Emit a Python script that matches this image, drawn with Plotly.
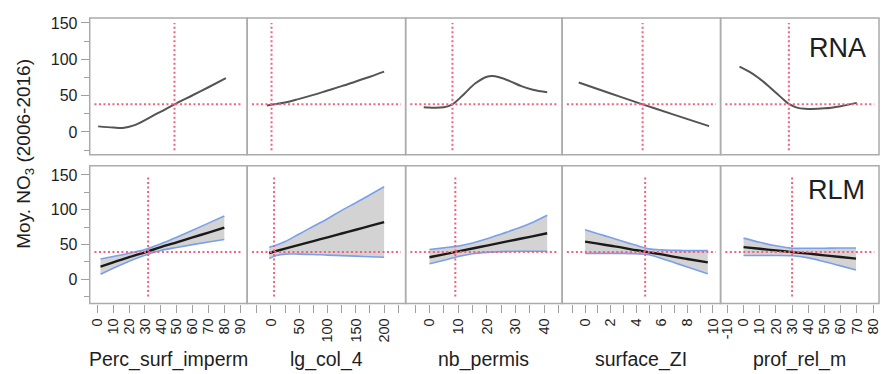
import plotly.graph_objects as go

# page is 889x374; the browser body has an 8px margin, so the figure is 881x366
PAGE_OFF = 8
W, H = 889 - PAGE_OFF, 374 - PAGE_OFF

variables = ["Perc_surf_imperm", "lg_col_4", "nb_permis", "surface_ZI", "prof_rel_m"]
row_labels = ["RNA", "RLM"]
y_label = "Moy. NO<sub>3</sub> (2006-2016)"

# ---- RNA (top row) response curves ----
rna_x_perc = [0.5, 10, 16, 23, 33.5, 40, 48.6, 60, 70, 81]
rna_y_perc = [7.7, 6, 5.5, 9, 20.5, 28, 38, 50.5, 61.5, 74]
rna_x_lg = [-7, 25, 50, 75, 100, 125, 150, 175, 200]
rna_y_lg = [36.5, 40.5, 45.5, 51, 57, 63, 69.5, 76, 83]
rna_x_nb = [-2, 0, 5, 8, 12, 16, 20, 22, 24, 28, 32, 36, 41]
rna_y_nb = [34, 33.5, 34, 38, 52, 67, 76, 77, 75.5, 70, 63, 58, 54.5]
rna_x_sz = [-0.5, 2, 4.5, 7, 9.7]
rna_y_sz = [68, 53, 38, 23.5, 8]
rna_x_pr = [-2.5, 5, 10, 15, 20, 25, 28, 33, 38, 50, 60, 70]
rna_y_pr = [90, 81, 73, 64, 54, 44, 38.5, 33.5, 32, 32.5, 35.5, 40]

# ---- RLM (bottom row): mean, upper and lower confidence bounds ----
rlm_x_perc = [2, 10, 20, 30, 40, 50, 60, 70, 80]
rlm_m_perc = [18, 24, 31.5, 38.5, 46, 53, 60, 67, 74]
rlm_u_perc = [29, 32.5, 37.2, 42.6, 50.8, 60.4, 70.4, 80.6, 91]
rlm_l_perc = [7, 15.5, 25.8, 34.4, 41.2, 45.6, 49.6, 53.4, 57]

rlm_x_lg = [-3, 10, 25, 50, 75, 100, 125, 150, 175, 200]
rlm_m_lg = [37.6, 40.5, 43.8, 49.2, 54.7, 60.2, 65.7, 71.1, 76.6, 82]
rlm_u_lg = [45.7, 49, 54, 65, 76, 87, 99, 110, 121.5, 133]
rlm_l_lg = [29.6, 34, 36, 36, 35.5, 34.5, 33.8, 33, 32.2, 31.4]

rlm_x_nb = [0, 5, 10, 15, 20, 25, 30, 35, 41]
rlm_m_nb = [31.5, 35.7, 39.9, 44.1, 48.3, 52.5, 56.7, 60.9, 66]
rlm_u_nb = [42.5, 45, 47.5, 52, 58, 65, 72, 80, 92]
rlm_l_nb = [22, 27, 32.5, 36.5, 38.5, 39.5, 40, 40, 40]

rlm_x_sz = [0, 1, 2, 3, 4, 5, 6, 7, 8, 9.6]
rlm_m_sz = [54, 51, 48, 45, 41.5, 38.5, 35.5, 32, 29, 24]
rlm_u_sz = [71, 65.4, 59.8, 54.2, 48.6, 43.5, 42, 41.5, 41, 41]
rlm_l_sz = [37, 37, 37, 37, 36.5, 35, 29.6, 23.5, 17.4, 7.6]

rlm_x_pr = [0, 10, 20, 30, 40, 50, 60, 69.5]
rlm_m_pr = [46, 43.6, 41.3, 38.9, 36.6, 34.2, 31.8, 29.5]
rlm_u_pr = [59, 53, 48, 44.5, 44.5, 44.5, 44.7, 44.7]
rlm_l_pr = [34, 34, 34, 33.5, 30.5, 25, 19, 13]

# reference (mean) lines
ref_h = [38, 39]                       # horizontal: mean NO3 (top, bottom)
ref_v_top = [48.6, 1, 8, 4.5, 28]      # vertical: mean of each predictor (RNA)
ref_v_bot = [32, 5.5, 9, 4.7, 30]      # vertical: mean of each predictor (RLM)

# tick definitions
x_major = [list(range(0, 91, 10)), [0, 50, 100, 150, 200], [0, 10, 20, 30, 40],
           [0, 2, 4, 6, 8, 10], list(range(-10, 81, 10))]
x_minor_step = [None, 25, 5, 1, None]
y_major = [0, 50, 100, 150]

rna = [(rna_x_perc, rna_y_perc), (rna_x_lg, rna_y_lg), (rna_x_nb, rna_y_nb),
       (rna_x_sz, rna_y_sz), (rna_x_pr, rna_y_pr)]
rlm = [(rlm_x_perc, rlm_m_perc, rlm_u_perc, rlm_l_perc),
       (rlm_x_lg, rlm_m_lg, rlm_u_lg, rlm_l_lg),
       (rlm_x_nb, rlm_m_nb, rlm_u_nb, rlm_l_nb),
       (rlm_x_sz, rlm_m_sz, rlm_u_sz, rlm_l_sz),
       (rlm_x_pr, rlm_m_pr, rlm_u_pr, rlm_l_pr)]

# ---- layout geometry (page pixels) ----
col_px = [(89, 247), (247, 406), (406, 563), (563, 722), (722, 881)]
row_px = [(15, 153), (164, 303)]
x_ranges = [[-4.8, 94.4], [-42, 238], [-8.3, 46.2], [-1.8, 10.6], [-14.2, 83.7]]
y_ranges = [[-31.4, 156.8], [-35.3, 163.3]]

FONT = "Liberation Sans, Arial, sans-serif"
TXT = "#1e1e1e"
BORDER = "#ababab"
TICK = "#a0a0a0"
RED = "#f2607c"
BLUE = "#7aa0ea"

def px_x(p):
    return (p - PAGE_OFF) / W

def px_y(p):
    return 1 - (p - PAGE_OFF) / H

fig = go.Figure()
layout = dict(
    width=W, height=H, margin=dict(l=0, r=0, t=0, b=0),
    paper_bgcolor="white", plot_bgcolor="white", showlegend=False,
    font=dict(family=FONT, color=TXT),
)
shapes = []
annotations = []

for r in range(2):
    for c in range(5):
        k = r * 5 + c + 1
        xs = "" if k == 1 else str(k)
        xa = dict(
            domain=[px_x(col_px[c][0]), px_x(col_px[c][1])],
            range=x_ranges[c], anchor="y" + xs,
            showgrid=False, zeroline=False, showline=False,
        )
        ya = dict(
            domain=[px_y(row_px[r][1]), px_y(row_px[r][0])],
            range=y_ranges[r], anchor="x" + xs,
            showgrid=False, zeroline=False, showline=False,
        )
        if r == 1:
            xa.update(tickmode="array", tickvals=x_major[c],
                      ticktext=[str(v) for v in x_major[c]],
                      ticks="outside", ticklen=8, tickcolor=TICK, tickwidth=1.3,
                      tickangle=-90, tickfont=dict(size=14.5, color=TXT, family=FONT))
            if x_minor_step[c]:
                xa["minor"] = dict(dtick=x_minor_step[c], tick0=0, ticks="outside",
                                   ticklen=8, tickcolor=TICK, tickwidth=1.3)
        else:
            xa.update(showticklabels=False, ticks="")
        if c == 0:
            ya.update(tickmode="array", tickvals=y_major,
                      ticktext=[str(v) for v in y_major],
                      ticks="outside", ticklen=8, tickcolor=TICK, tickwidth=1.3,
                      tickfont=dict(size=16, color=TXT, family=FONT),
                      minor=dict(dtick=25, tick0=0, ticks="outside", ticklen=5,
                                 tickcolor=TICK, tickwidth=1.3))
        else:
            ya.update(showticklabels=False, ticks="")
        layout["xaxis" + xs] = xa
        layout["yaxis" + xs] = ya

        xref, yref = "x" + xs, "y" + xs
        if r == 0:
            x, y = rna[c]
            fig.add_trace(go.Scatter(x=x, y=y, mode="lines", xaxis=xref, yaxis=yref,
                                     line=dict(color="#545454", width=2, shape="spline"),
                                     hoverinfo="skip"))
        else:
            x, m, u, l = rlm[c]
            fig.add_trace(go.Scatter(x=x, y=l, mode="lines", xaxis=xref, yaxis=yref,
                                     line=dict(width=0, color="rgba(0,0,0,0)", shape="spline"),
                                     hoverinfo="skip"))
            fig.add_trace(go.Scatter(x=x, y=u, mode="lines", xaxis=xref, yaxis=yref,
                                     fill="tonexty", fillcolor="#d3d3d3",
                                     line=dict(width=0, color="rgba(0,0,0,0)", shape="spline"),
                                     hoverinfo="skip"))
            for yy in (l, u):
                fig.add_trace(go.Scatter(x=x, y=yy, mode="lines", xaxis=xref, yaxis=yref,
                                         line=dict(color=BLUE, width=1.6, shape="spline"),
                                         hoverinfo="skip"))
            fig.add_trace(go.Scatter(x=x, y=m, mode="lines", xaxis=xref, yaxis=yref,
                                     line=dict(color="#1a1a1a", width=2.4, shape="spline"),
                                     hoverinfo="skip"))
        # red dotted reference lines
        vx = ref_v_top[c] if r == 0 else ref_v_bot[c]
        shapes.append(dict(type="line", xref=xref, yref=yref, x0=vx, x1=vx,
                           y0=-25, y1=150, layer="above",
                           line=dict(color=RED, width=2, dash="2px,2.5px")))
        shapes.append(dict(type="line", xref=xref + " domain", yref=yref,
                           x0=0.03, x1=0.97, y0=ref_h[r], y1=ref_h[r], layer="above",
                           line=dict(color=RED, width=2, dash="2px,2.5px")))
        # panel frame
        shapes.append(dict(type="rect", xref="paper", yref="paper",
                           x0=px_x(col_px[c][0]), x1=px_x(col_px[c][1]),
                           y0=px_y(row_px[r][1]), y1=px_y(row_px[r][0]),
                           layer="above", line=dict(color=BORDER, width=1.5)))

# row labels
annotations.append(dict(text=row_labels[0], xref="paper", yref="paper",
                        x=px_x(870), y=px_y(45), xanchor="right", yanchor="middle",
                        showarrow=False, font=dict(size=27, color=TXT, family=FONT)))
annotations.append(dict(text=row_labels[1], xref="paper", yref="paper",
                        x=px_x(869), y=px_y(188), xanchor="right", yanchor="middle",
                        showarrow=False, font=dict(size=27, color=TXT, family=FONT)))
# x titles
for c, name in enumerate(variables):
    cx = (col_px[c][0] + col_px[c][1]) / 2
    annotations.append(dict(text=name, xref="paper", yref="paper",
                            x=px_x(cx), y=px_y(359), xanchor="center", yanchor="middle",
                            showarrow=False, font=dict(size=19.5, color=TXT, family=FONT)))
# y title
annotations.append(dict(text=y_label, xref="paper", yref="paper",
                        x=px_x(24), y=px_y(152), xanchor="center", yanchor="middle",
                        textangle=-90, showarrow=False,
                        font=dict(size=19, color=TXT, family=FONT)))

layout["shapes"] = shapes
layout["annotations"] = annotations
fig.update_layout(**layout)
fig.write_html("out.html")
